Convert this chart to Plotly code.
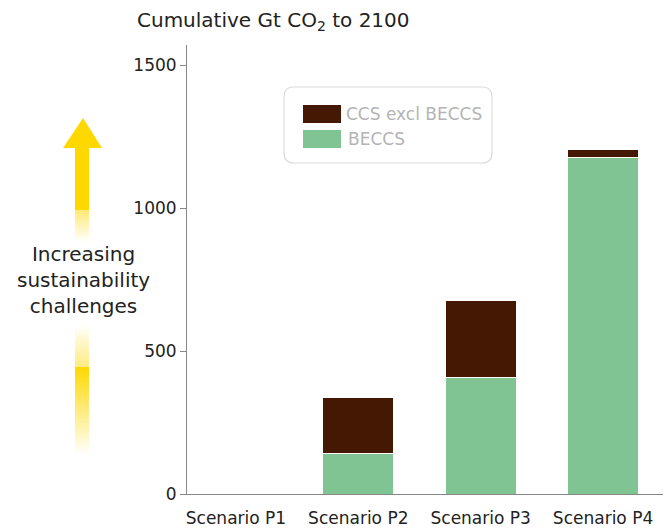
import plotly.graph_objects as go

# ---- data ----
scenarios = ["Scenario P1", "Scenario P2", "Scenario P3", "Scenario P4"]
beccs = [0, 143, 407, 1177]
ccs_excl_beccs = [0, 196, 271, 28]
y_ticks = [0, 500, 1000, 1500]

DARK = "#441803"
GREEN = "#80C494"
YELLOW = "#FFD800"
FONT = "DejaVu Sans"

W, H = 665, 529
L, R, T, B = 187, 2, 45, 35
PW, PH = W - L - R, H - T - B


def px(x):
    return (x - L) / PW


def py(y):
    return (H - B - y) / PH


fig = go.Figure()
fig.add_trace(go.Bar(x=scenarios, y=beccs, name="BECCS",
                     marker=dict(color=GREEN, line=dict(color="white", width=1))))
fig.add_trace(go.Bar(x=scenarios, y=ccs_excl_beccs, name="CCS excl BECCS",
                     marker=dict(color=DARK, line=dict(color="white", width=1))))

shapes = []
# arrow head
shapes.append(dict(type="path", xref="paper", yref="paper",
                   path=f"M {px(63)} {py(148)} L {px(83)} {py(118)} L {px(102)} {py(148)} Z",
                   fillcolor=YELLOW, line=dict(width=0)))


def grad(y0, y1, a0, a1, step=2):
    n = max(1, int((y1 - y0) / step))
    for i in range(n):
        ya = y0 + (y1 - y0) * i / n
        yb = y0 + (y1 - y0) * (i + 1) / n
        a = a0 + (a1 - a0) * (i + 0.5) / n
        shapes.append(dict(type="rect", xref="paper", yref="paper",
                           x0=px(75), x1=px(89), y0=py(ya), y1=py(yb),
                           fillcolor=YELLOW, opacity=a, line=dict(width=0), layer="below"))


grad(147, 210, 1.0, 1.0, step=63)
grad(210, 242, 0.55, 0.0)
grad(325, 367, 0.0, 0.5)
grad(367, 455, 1.0, 0.0)

# legend box (manual)
x0b, x1b, y0b, y1b, r = 284, 492, 87, 163, 10
shapes.append(dict(type="path", xref="paper", yref="paper",
                   path=(f"M {px(x0b + r)} {py(y0b)} L {px(x1b - r)} {py(y0b)} "
                         f"Q {px(x1b)} {py(y0b)} {px(x1b)} {py(y0b + r)} "
                         f"L {px(x1b)} {py(y1b - r)} Q {px(x1b)} {py(y1b)} {px(x1b - r)} {py(y1b)} "
                         f"L {px(x0b + r)} {py(y1b)} Q {px(x0b)} {py(y1b)} {px(x0b)} {py(y1b - r)} "
                         f"L {px(x0b)} {py(y0b + r)} Q {px(x0b)} {py(y0b)} {px(x0b + r)} {py(y0b)} Z"),
                   fillcolor="white", line=dict(color="#dcdcdc", width=1.2)))
shapes.append(dict(type="rect", xref="paper", yref="paper",
                   x0=px(303), x1=px(341), y0=py(105), y1=py(123),
                   fillcolor=DARK, line=dict(width=0)))
shapes.append(dict(type="rect", xref="paper", yref="paper",
                   x0=px(303), x1=px(341), y0=py(130), y1=py(148),
                   fillcolor=GREEN, line=dict(width=0)))

annotations = [
    dict(xref="paper", yref="paper", x=px(344), y=py(114), xanchor="left", yanchor="middle",
         text="CCS excl BECCS", showarrow=False, font=dict(family=FONT, size=17, color="#b4b4b4")),
    dict(xref="paper", yref="paper", x=px(346), y=py(139), xanchor="left", yanchor="middle",
         text="BECCS", showarrow=False, font=dict(family=FONT, size=17, color="#b4b4b4")),
    dict(xref="paper", yref="paper", x=px(135), y=py(21), xanchor="left", yanchor="middle",
         text="Cumulative Gt CO<sub>2</sub> to 2100", showarrow=False,
         font=dict(family=FONT, size=20, color="#222")),
    dict(xref="paper", yref="paper", x=px(83), y=py(280), xanchor="center", yanchor="middle",
         text="Increasing<br>sustainability<br>challenges", showarrow=False, align="center",
         font=dict(family=FONT, size=20, color="#222")),
]

fig.update_layout(
    width=W, height=H, barmode="stack", bargap=0.42,
    margin=dict(l=L, r=R, t=T, b=B),
    plot_bgcolor="white", paper_bgcolor="white",
    showlegend=False,
    font=dict(family=FONT, size=17, color="#222"),
    shapes=shapes, annotations=annotations,
)
fig.update_xaxes(range=[-0.40, 3.49], showline=True, linecolor="#888", linewidth=1,
                 ticks="outside", ticklen=9, tickcolor="rgba(0,0,0,0)", showgrid=False,
                 tickfont=dict(size=17, color="#222"))
fig.update_yaxes(range=[0, 1570], tickvals=y_ticks, showline=True, linecolor="#888", linewidth=1,
                 ticks="outside", ticklen=6, tickcolor="#888", showgrid=False, zeroline=False,
                 tickfont=dict(size=17, color="#222"))

fig.write_html("out.html", config={"displayModeBar": False},
               post_script="document.body.style.margin='0';document.body.style.overflow='hidden';")
